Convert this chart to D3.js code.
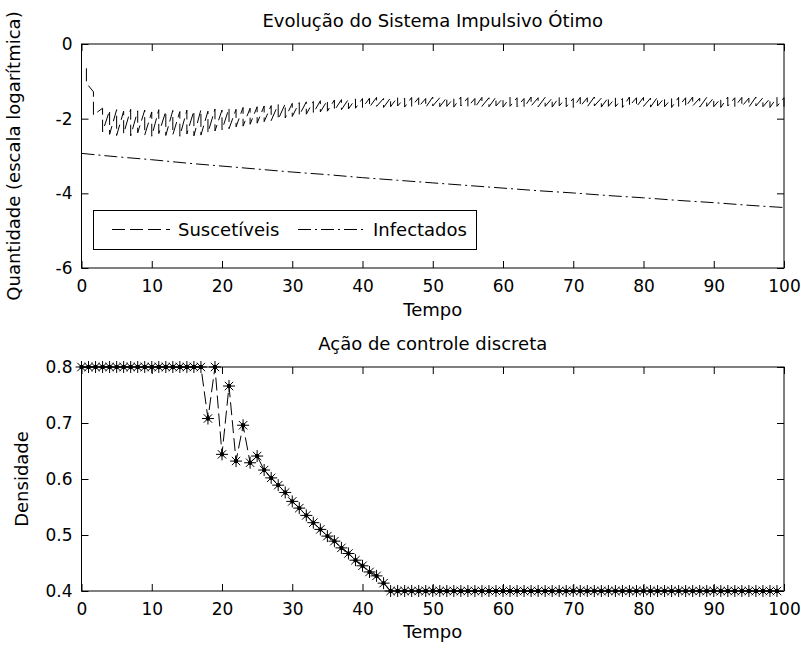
<!DOCTYPE html>
<html lang="pt">
<head>
<meta charset="utf-8">
<title>Evolução do Sistema Impulsivo Ótimo</title>
<script src="https://cdn.jsdelivr.net/npm/d3@7"></script>
<style>
  body { margin: 0; background: #fff; }
  svg { font-family: "DejaVu Sans", sans-serif; }
  .tick line { stroke: #000; }
  .tick text { font-size: 17px; fill: #000; }
</style>
</head>
<body>
<script>
// ---- data ----
// tempo dos impulsos
var impulseT = [0.7, 1.7].concat(d3.range(3, 101));

// suscetíveis (log10): valor antes e depois de cada impulso
var sPre = [-0.65, -1.28, -1.72, -1.78, -1.76, -1.80, -1.75, -1.79, -1.77,
  -1.82, -1.76, -1.80, -1.78, -1.81, -1.77, -1.79, -1.76, -1.80, -1.74,
  -1.77, -1.72, -1.75, -1.70, -1.72, -1.68, -1.66, -1.65, -1.62, -1.60,
  -1.59, -1.57, -1.55, -1.54, -1.52, -1.51, -1.50, -1.49, -1.48, -1.47,
  -1.46, -1.45, -1.43, -1.46, -1.44, -1.42, -1.45, -1.43, -1.44, -1.46,
  -1.42, -1.44, -1.43, -1.45, -1.42, -1.44, -1.46, -1.43, -1.44, -1.42,
  -1.45, -1.43, -1.44, -1.46, -1.42, -1.44, -1.43, -1.45, -1.42, -1.44,
  -1.46, -1.43, -1.44, -1.42, -1.45, -1.43, -1.44, -1.46, -1.42, -1.44,
  -1.43, -1.45, -1.42, -1.44, -1.46, -1.43, -1.44, -1.42, -1.45, -1.43,
  -1.44, -1.46, -1.42, -1.44, -1.43, -1.45, -1.42, -1.44, -1.46, -1.43, -1.44];
var sPost = [-1.05, -1.90, -2.35, -2.42, -2.45, -2.40, -2.46, -2.38, -2.44,
  -2.47, -2.40, -2.45, -2.43, -2.47, -2.41, -2.46, -2.44, -2.38, -2.33,
  -2.30, -2.27, -2.22, -2.20, -2.15, -2.12, -2.08, -2.05, -2.02, -1.98,
  -1.94, -1.91, -1.88, -1.85, -1.82, -1.80, -1.78, -1.76, -1.74, -1.72,
  -1.71, -1.69, -1.67, -1.70, -1.68, -1.66, -1.69, -1.67, -1.68, -1.70,
  -1.66, -1.68, -1.67, -1.69, -1.66, -1.68, -1.70, -1.67, -1.68, -1.66,
  -1.69, -1.67, -1.68, -1.70, -1.66, -1.68, -1.67, -1.69, -1.66, -1.68,
  -1.70, -1.67, -1.68, -1.66, -1.69, -1.67, -1.68, -1.70, -1.66, -1.68,
  -1.67, -1.69, -1.66, -1.68, -1.70, -1.67, -1.68, -1.66, -1.69, -1.67,
  -1.68, -1.70, -1.66, -1.68, -1.67, -1.69, -1.66, -1.68, -1.70, -1.67, -1.68];

// infectados (log10), a cada 5 unidades de tempo
var iT = [0, 5, 10, 15, 20, 25, 30, 35, 40, 45, 50, 55, 60, 65, 70, 75, 80, 85, 90, 95, 100];
var iV = [-2.93, -3.02, -3.10, -3.19, -3.27, -3.35, -3.43, -3.50, -3.58, -3.65, -3.72,
  -3.79, -3.86, -3.93, -3.99, -4.06, -4.12, -4.19, -4.25, -4.32, -4.38];

// ação de controle discreta (t = 0..99)
var uT = d3.range(0, 100);
var uV = [0.8, 0.8, 0.8, 0.8, 0.8, 0.8, 0.8, 0.8, 0.8, 0.8,
  0.8, 0.8, 0.8, 0.8, 0.8, 0.8, 0.8, 0.8, 0.708, 0.8,
  0.644, 0.766, 0.632, 0.696, 0.629, 0.641, 0.616, 0.602, 0.589, 0.576,
  0.560, 0.548, 0.535, 0.522, 0.510, 0.498, 0.489, 0.477, 0.467, 0.455,
  0.445, 0.434, 0.427, 0.414, 0.4, 0.4, 0.4, 0.4, 0.4, 0.4,
  0.4, 0.4, 0.4, 0.4, 0.4, 0.4, 0.4, 0.4, 0.4, 0.4,
  0.4, 0.4, 0.4, 0.4, 0.4, 0.4, 0.4, 0.4, 0.4, 0.4,
  0.4, 0.4, 0.4, 0.4, 0.4, 0.4, 0.4, 0.4, 0.4, 0.4,
  0.4, 0.4, 0.4, 0.4, 0.4, 0.4, 0.4, 0.4, 0.4, 0.4,
  0.4, 0.4, 0.4, 0.4, 0.4, 0.4, 0.4, 0.4, 0.4, 0.4];

var xTicks = [0, 10, 20, 30, 40, 50, 60, 70, 80, 90, 100];
var yTicksTop = [-6, -4, -2, 0];
var yTicksBot = [0.4, 0.5, 0.6, 0.7, 0.8];

// ---- layout ----
var W = 801, H = 650;
var L = 81.5, R = 784;
var top1 = 44, bot1 = 268;
var top2 = 367, bot2 = 591;
var TL = 7;
var DASH = "13,5", DASHDOT = "13,4,2,4";

var svg = d3.select("body").append("svg")
  .attr("width", W).attr("height", H);

var x1 = d3.scaleLinear().domain([0, 100]).range([L, R]);
var y1 = d3.scaleLinear().domain([-6, 0]).range([bot1, top1]);
var x2 = d3.scaleLinear().domain([0, 100]).range([L, R]);
var y2 = d3.scaleLinear().domain([0.4, 0.8]).range([bot2, top2]);

function drawAxes(x, y, yt, y0, y1p, yfmt) {
  var g = svg.append("g");
  g.append("g").attr("transform", "translate(0," + y0 + ")")
    .call(d3.axisBottom(x).tickValues(xTicks).tickSize(-TL).tickPadding(12).tickFormat(function(d) { return String(d); }));
  g.append("g").attr("transform", "translate(0," + y1p + ")")
    .call(d3.axisTop(x).tickValues(xTicks).tickSize(-TL).tickFormat(""));
  g.append("g").attr("transform", "translate(" + L + ",0)")
    .call(d3.axisLeft(y).tickValues(yt).tickSize(-TL).tickPadding(9).tickFormat(yfmt));
  g.append("g").attr("transform", "translate(" + R + ",0)")
    .call(d3.axisRight(y).tickValues(yt).tickSize(-TL).tickFormat(""));
  g.selectAll(".domain").remove();
  g.selectAll(".tick text").attr("font-family", "DejaVu Sans").attr("font-size", 17);
  g.append("rect")
    .attr("x", L).attr("y", y1p).attr("width", R - L).attr("height", y0 - y1p)
    .attr("fill", "none").attr("stroke", "#000").attr("stroke-width", 1);
}

// ---- top plot ----
var sPts = [];
impulseT.forEach(function(t, k) {
  sPts.push([t, sPre[k]]);
  sPts.push([t, sPost[k]]);
});

var line1 = d3.line().x(function(d) { return x1(d[0]); }).y(function(d) { return y1(d[1]); });

svg.append("path").datum(sPts)
  .attr("d", line1).attr("fill", "none").attr("stroke", "#000")
  .attr("stroke-width", 1).attr("stroke-dasharray", DASH);

svg.append("path").datum(iT.map(function(t, i) { return [t, iV[i]]; }))
  .attr("d", line1.curve(d3.curveMonotoneX)).attr("fill", "none").attr("stroke", "#000")
  .attr("stroke-width", 1).attr("stroke-dasharray", DASHDOT);

drawAxes(x1, y1, yTicksTop, bot1, top1, function(d) { return String(d); });

// legend
var lg = svg.append("g");
lg.append("rect").attr("x", 93.5).attr("y", 210.5).attr("width", 383).attr("height", 39)
  .attr("fill", "#fff").attr("stroke", "#000");
lg.append("line").attr("x1", 112).attr("x2", 170).attr("y1", 229.5).attr("y2", 229.5)
  .attr("stroke", "#000").attr("stroke-dasharray", DASH);
lg.append("text").attr("x", 178).attr("y", 236).attr("font-size", 18).text("Suscetíveis");
lg.append("line").attr("x1", 298).attr("x2", 364).attr("y1", 229.5).attr("y2", 229.5)
  .attr("stroke", "#000").attr("stroke-dasharray", DASHDOT);
lg.append("text").attr("x", 373).attr("y", 236).attr("font-size", 18).text("Infectados");

svg.append("text").attr("x", (L + R) / 2).attr("y", 27).attr("text-anchor", "middle")
  .attr("font-size", 18).text("Evolução do Sistema Impulsivo Ótimo");
svg.append("text").attr("x", (L + R) / 2).attr("y", 316).attr("text-anchor", "middle")
  .attr("font-size", 18).text("Tempo");
svg.append("text").attr("transform", "translate(20," + (top1 + bot1) / 2 + ") rotate(-90)")
  .attr("text-anchor", "middle").attr("font-size", 18).text("Quantidade (escala logarítmica)");

// ---- bottom plot ----
var line2 = d3.line().x(function(d, i) { return x2(uT[i]); }).y(function(d) { return y2(d); });

svg.append("path").datum(uV)
  .attr("d", line2).attr("fill", "none").attr("stroke", "#000")
  .attr("stroke-width", 1).attr("stroke-dasharray", DASH);

drawAxes(x2, y2, yTicksBot, bot2, top2, function(d) { return d.toFixed(1); });

var star = "M-6,0H6M0,-6V6M-4.2,-4.2L4.2,4.2M-4.2,4.2L4.2,-4.2";
var mk = svg.append("g").selectAll("g").data(uV).enter().append("g")
  .attr("transform", function(d, i) { return "translate(" + x2(uT[i]) + "," + y2(d) + ")"; });
mk.append("path").attr("d", star).attr("stroke", "#000").attr("stroke-width", 1).attr("fill", "none");
mk.append("circle").attr("r", 2.2).attr("fill", "#000");

svg.append("text").attr("x", (L + R) / 2).attr("y", 350).attr("text-anchor", "middle")
  .attr("font-size", 18).text("Ação de controle discreta");
svg.append("text").attr("x", (L + R) / 2).attr("y", 638).attr("text-anchor", "middle")
  .attr("font-size", 18).text("Tempo");
svg.append("text").attr("transform", "translate(28," + (top2 + bot2) / 2 + ") rotate(-90)")
  .attr("text-anchor", "middle").attr("font-size", 18).text("Densidade");
</script>
</body>
</html>
